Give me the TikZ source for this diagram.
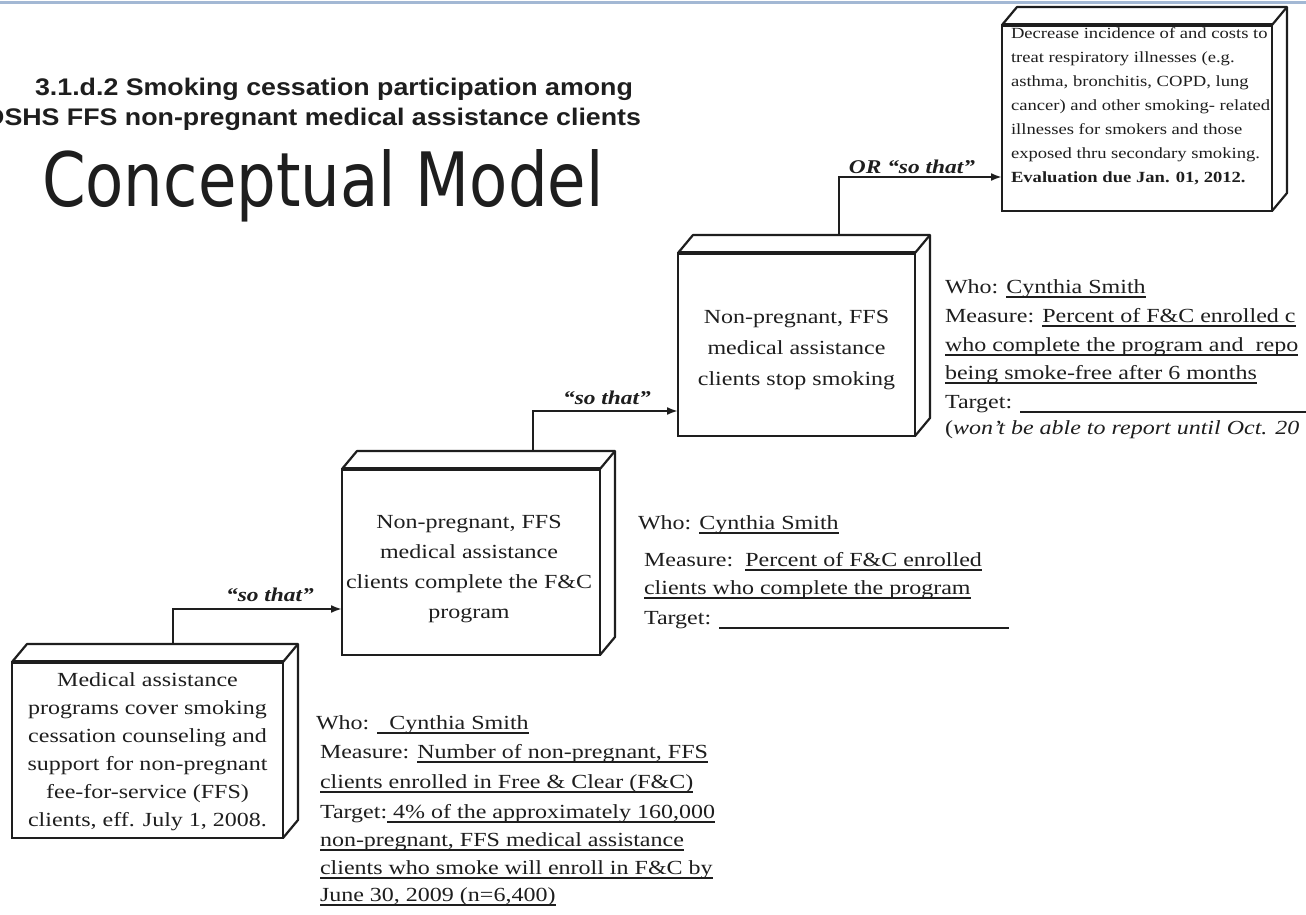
\documentclass[tikz,border=0pt]{standalone}
\usepackage{fontspec}
\setmainfont{Liberation Serif}[FakeStretch=1.2]
\newfontfamily\titlefont{Liberation Sans}[FakeStretch=1.115]
\newfontfamily\cmfont{DejaVu Sans}[FakeStretch=0.834]
\usetikzlibrary{arrows.meta}
\definecolor{ink}{HTML}{1E1E1E}
\definecolor{topblue}{HTML}{A3B8D4}
\newsavebox\ulbox
\newcommand\myul[1]{\sbox\ulbox{#1}\rlap{\rule[-4.5pt]{\wd\ulbox}{1.4pt}}\usebox\ulbox}
\newcommand\blankline[1]{\rule[-4.5pt]{#1}{1.4pt}}
\newcommand\depthfaces[1]{%
  \draw[boxedge] (#1.north west) -- ++(15,-18) -- ([shift={(15,-18)}]#1.north east)
     -- ([shift={(15,-18)}]#1.south east) -- (#1.south east);
  \draw[boxedge] (#1.north east) -- ++(15,-18);
  \draw[ink, line width=3.5pt] (#1.north west) -- (#1.north east);}
\begin{document}
\begin{tikzpicture}[x=1pt,y=-1pt,
  every node/.style={inner sep=0pt, outer sep=0pt, text=ink},
  box/.style={draw=ink, line width=2.2pt, fill=white},
  boxedge/.style={draw=ink, line width=2.2pt, line join=round},
  boxtext/.style={align=center},
  info/.style={anchor=base west, font=\fontsize{20}{24}\selectfont},
  conn/.style={draw=ink, line width=2pt, -{Latex[length=11pt,width=8pt]}},
  lbl/.style={anchor=base, font=\fontsize{19.5}{22}\selectfont\bfseries\itshape}]
\useasboundingbox (0,0) rectangle (1306,915);
\clip (0,0) rectangle (1306,915);
\fill[white] (0,0) rectangle (1306,915);
\draw[topblue, line width=3pt] (0,3) -- (1306,3);

% titles
\node[anchor=base, font=\titlefont\bfseries\fontsize{24}{28}\selectfont] (t1) at (334,96)
  {3.1.d.2 Smoking cessation participation among};
\node[anchor=base east, font=\titlefont\bfseries\fontsize{24}{28}\selectfont] (t2) at (641,126)
  {DSHS FFS non-pregnant medical assistance clients};
\node[anchor=base west, font=\cmfont\fontsize{75}{80}\selectfont] (t3) at (42,206) {Conceptual Model};

% boxes
\node[box, minimum width=271pt, minimum height=176pt] (a) at (147.5,750) {};
\depthfaces{a}
\node[boxtext, font=\fontsize{20}{28}\selectfont] (atext) at (147.5,752)
  {Medical assistance\\programs cover smoking\\cessation counseling and\\support for non-pregnant\\fee-for-service (FFS)\\clients, eff. July 1, 2008.};
\node[box, minimum width=258pt, minimum height=186pt] (b) at (471,562) {};
\depthfaces{b}
\node[boxtext, font=\fontsize{20}{30}\selectfont] (btext) at (469,569)
  {Non-pregnant, FFS\\medical assistance\\clients complete the F\&C\\program};
\node[box, minimum width=237pt, minimum height=183pt] (c) at (796.5,344.5) {};
\depthfaces{c}
\node[boxtext, font=\fontsize{20}{31}\selectfont] (ctext) at (796.5,350.5)
  {Non-pregnant, FFS\\medical assistance\\clients stop smoking};
\node[box, minimum width=270pt, minimum height=186pt] (d) at (1137,118) {};
\depthfaces{d}
\node[anchor=north west, align=left, font=\fontsize{15.5}{24}\selectfont] (dtext) at (1011,28)
  {Decrease incidence of and costs to\\treat respiratory illnesses (e.g.\\asthma, bronchitis, COPD, lung\\cancer) and other smoking- related\\illnesses for smokers and those\\exposed thru secondary smoking.\\\textbf{Evaluation due Jan. 01, 2012.}};

% connectors
\coordinate (aout) at (173,644);
\coordinate (bout) at (533,451);
\coordinate (cout) at (839,235);
\draw[conn] (aout) |- (b.west |- 0,609);
\draw[conn] (bout) |- (c.west |- 0,411);
\draw[conn] (cout) |- (d.west |- 0,177);
\node[lbl] (l1) at (270,601) {“so that”};
\node[lbl] (l2) at (607,404) {“so that”};
\node[lbl] (l3) at (912,173) {OR “so that”};

% info for box a
\node[info] (a1) at (316,729) {Who: \myul{\ \ Cynthia Smith}};
\node[info] (a2) at (320,758) {Measure: \myul{Number of non-pregnant, FFS}};
\node[info] (a3) at (320,788) {\myul{clients enrolled in Free \& Clear (F\&C)}};
\node[info] (a4) at (320,818) {Target:\myul{\ 4\% of the approximately 160,000}};
\node[info] (a5) at (320,846) {\myul{non-pregnant, FFS medical assistance}};
\node[info] (a6) at (320,874) {\myul{clients who smoke will enroll in F\&C by}};
\node[info] (a7) at (320,901) {\myul{June 30, 2009 (n=6,400)}};

% info for box b
\node[info] (b1) at (638,529) {Who: \myul{Cynthia Smith}};
\node[info] (b2) at (644,566) {Measure:\ \ \myul{Percent of F\&C enrolled}};
\node[info] (b3) at (644,594) {\myul{clients who complete the program}};
\node[info] (b4) at (644,624) {Target: \blankline{290pt}};

% info for box c
\node[info] (c1) at (945,293) {Who: \myul{Cynthia Smith}};
\node[info] (c2) at (945,322) {Measure: \myul{Percent of F\&C enrolled c}};
\node[info] (c3) at (945,351) {\myul{who complete the program and\ \ repo}};
\node[info] (c4) at (945,379) {\myul{being smoke-free after 6 months}};
\node[info] (c5) at (945,408) {Target: \blankline{300pt}};
\node[info] (c6) at (945,434) {(\textit{won’t be able to report until Oct. 20}};
\end{tikzpicture}
\end{document}
